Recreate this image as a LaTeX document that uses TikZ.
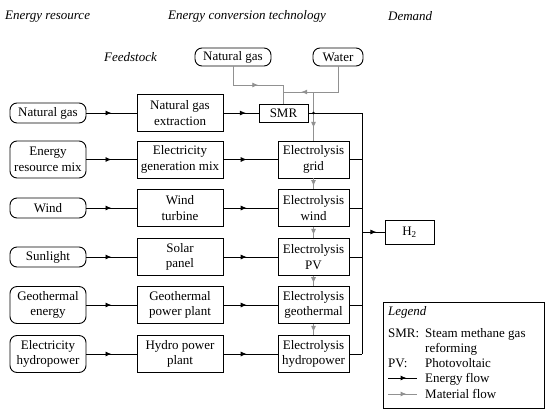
\documentclass[tikz,border=0pt]{standalone}
\usepackage{fontspec}
\setmainfont{Liberation Serif}
\usetikzlibrary{arrows.meta,decorations.markings}
\definecolor{matgray}{RGB}{145,145,145}
\begin{document}
\begin{tikzpicture}[x=1pt,y=1pt,
  font=\fontsize{13}{15.5}\selectfont,
  box/.style={draw, line width=0.9pt, minimum height=37pt, inner sep=0pt, align=center},
  src/.style={box, rounded corners=7pt, minimum width=76pt},
  midbox/.style={box, minimum width=86pt},
  elx/.style={box, minimum width=71pt},
  eline/.style={line width=0.9pt, color=black},
  gline/.style={line width=0.9pt, color=matgray},
  marr/.style={postaction={decorate}, decoration={markings, mark=at position #1 with {\arrow{Latex[length=6pt,width=5pt]}}}},
  ital/.style={font=\fontsize{13}{15.5}\selectfont\itshape, inner sep=0pt, anchor=base west},
  txt/.style={inner sep=0pt, anchor=base west}
]
\useasboundingbox (0,0) rectangle (550,-416);

% titles
\node[ital] (t1) at (5,-19) {Energy resource};
\node[ital] (t2) at (168,-19) {Energy conversion technology};
\node[ital] (t3) at (388,-20) {Demand};
\node[ital] (t4) at (104,-61) {Feedstock};

% feedstock
\node[src, minimum height=18pt] (tng) at (233,-57) {Natural gas};
\node[src, minimum height=18pt, minimum width=50pt] (tw) at (338,-57) {Water};

% sources
\node[src, minimum height=20pt] (s1) at (48,-113) {Natural gas};
\node[src] (s2) at (48,-159.5) {Energy\\resource mix};
\node[src, minimum height=20pt] (s3) at (48,-208) {Wind};
\node[src, minimum height=20pt] (s4) at (48,-257) {Sunlight};
\node[src] (s5) at (48,-305) {Geothermal\\energy};
\node[src] (s6) at (48,-354) {Electricity\\hydropower};

% conversion
\node[midbox] (m1) at (180,-113) {Natural gas\\extraction};
\node[midbox] (m2) at (180,-159.5) {Electricity\\generation mix};
\node[midbox] (m3) at (180,-208) {Wind\\turbine};
\node[midbox] (m4) at (180,-257) {Solar\\panel};
\node[midbox] (m5) at (180,-305) {Geothermal\\power plant};
\node[midbox] (m6) at (180,-354) {Hydro power\\plant};

\node[box, minimum width=49pt, minimum height=18pt] (smr) at (283.5,-113) {SMR};
\node[elx] (e2) at (313.5,-159.5) {Electrolysis\\grid};
\node[elx] (e3) at (313.5,-208) {Electrolysis\\wind};
\node[elx] (e4) at (313.5,-257) {Electrolysis\\PV};
\node[elx] (e5) at (313.5,-305) {Electrolysis\\geothermal};
\node[elx] (e6) at (313.5,-354) {Electrolysis\\hydropower};

\node[box, minimum width=49pt, minimum height=24pt] (h2) at (409.5,-232) {H\textsubscript{2}};

% coordinates
\coordinate (bt) at (362,-113);
\coordinate (bb) at (362,-354);
\coordinate (bh) at (362,-232);
\coordinate (j1) at (283.5,-85);
\coordinate (j3) at (283.5,-92);
\coordinate (j2) at (313.5,-92);

% material flows
\draw[gline, marr=0.5] (tng.south) |- (j1) -- (smr.north);
\draw[gline, marr=0.78] (tw.south) |- (j3);
\draw[gline, marr=0.74] (j2) -- (e2.north);
\draw[gline, marr=0.72] (e2.south) -- (e3.north);
\draw[gline, marr=0.72] (e3.south) -- (e4.north);
\draw[gline, marr=0.72] (e4.south) -- (e5.north);
\draw[gline, marr=0.72] (e5.south) -- (e6.north);

% energy flows
\draw[eline, marr=0.5] (s1.east) -- (m1.west);
\draw[eline, marr=0.64] (m1.east) -- (smr.west);
\foreach \i in {2,...,6}{
  \draw[eline, marr=0.5] (s\i.east) -- (m\i.west);
  \draw[eline, marr=0.43] (m\i.east) -- (e\i.west);
  \draw[eline] (e\i.east) -- (e\i.east -| bt);
}
\draw[eline] (smr.east) -- (bt) -- (bb);
\node[circle, fill, inner sep=0pt, minimum size=2.6pt] (xdot) at (313.5,-113) {};
\draw[eline, marr=0.64] (bh) -- (h2.west);

% legend
\node[draw, line width=0.9pt, minimum width=161pt, minimum height=106pt, inner sep=0pt, anchor=north west] (leg) at (383,-302) {};
\node[ital] (lg) at (388,-315) {Legend};
\node[txt] (l1) at (388,-337) {SMR:};
\node[txt] (l1b) at (425,-337) {Steam methane gas};
\node[txt] (l1c) at (425,-352) {reforming};
\node[txt] (l2) at (388,-367) {PV:};
\node[txt] (l2b) at (425,-367) {Photovoltaic};
\node[txt] (l3b) at (425,-382) {Energy flow};
\node[txt] (l4b) at (425,-398) {Material flow};
\coordinate (ea) at (388,-378);
\coordinate (eb) at (417,-378);
\coordinate (ga) at (388,-394);
\coordinate (gb) at (417,-394);
\draw[eline, marr=0.64] (ea) -- (eb);
\draw[gline, marr=0.64] (ga) -- (gb);
\end{tikzpicture}
\end{document}
